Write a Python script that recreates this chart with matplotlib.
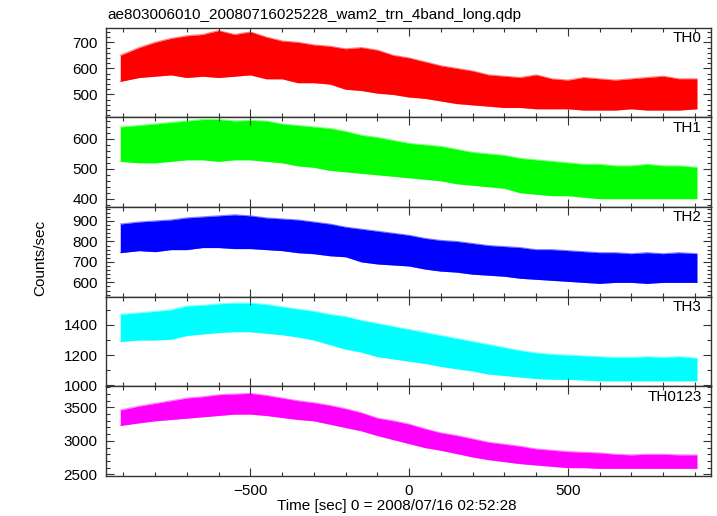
import numpy as np
import matplotlib
matplotlib.use("Agg")
import matplotlib.pyplot as plt
from matplotlib.ticker import MultipleLocator

plt.rcParams['font.family'] = ['Liberation Sans', 'DejaVu Sans']

time_s = [-910, -850, -800, -750, -700, -650, -600, -550, -500, -450, -400,
          -350, -300, -250, -200, -150, -100, -50, 0, 50, 100, 150, 200,
          250, 300, 350, 400, 450, 500, 550, 600, 650, 700, 750, 800, 850, 907]

th0_hi = [650, 680, 700, 715, 725, 730, 745, 730, 740, 720, 705, 700, 690, 685,
          675, 680, 670, 650, 640, 625, 610, 600, 590, 575, 570, 565, 575, 560,
          555, 565, 560, 555, 560, 565, 570, 560, 560]
th0_lo = [550, 565, 570, 575, 565, 570, 565, 570, 575, 560, 560, 545, 545, 540,
          520, 515, 505, 500, 490, 485, 475, 465, 460, 455, 450, 450, 445, 445,
          445, 440, 440, 440, 445, 440, 440, 440, 445]

th1_hi = [640, 645, 650, 655, 660, 665, 665, 660, 662, 660, 650, 645, 640, 635,
          625, 612, 605, 595, 585, 580, 575, 565, 555, 550, 545, 535, 530, 525,
          520, 515, 515, 510, 510, 515, 510, 510, 505]
th1_lo = [525, 520, 520, 525, 530, 530, 525, 530, 530, 525, 520, 510, 505, 495,
          490, 485, 480, 475, 470, 465, 460, 450, 445, 440, 435, 420, 415, 410,
          410, 405, 400, 400, 400, 400, 400, 400, 400]

th2_hi = [885, 895, 900, 905, 915, 920, 925, 930, 925, 915, 910, 905, 895, 885,
          870, 860, 850, 840, 830, 815, 805, 800, 790, 780, 775, 770, 760, 760,
          755, 750, 745, 745, 740, 745, 740, 745, 740]
th2_lo = [745, 755, 750, 760, 760, 770, 770, 765, 765, 760, 755, 745, 740, 730,
          725, 700, 690, 685, 680, 665, 655, 650, 640, 635, 630, 620, 615, 610,
          605, 600, 595, 600, 600, 595, 600, 600, 600]

th3_hi = [1470, 1480, 1490, 1500, 1525, 1530, 1540, 1545, 1545, 1535, 1520, 1505,
          1490, 1470, 1455, 1430, 1410, 1390, 1370, 1350, 1330, 1310, 1290, 1270,
          1250, 1230, 1215, 1205, 1200, 1195, 1190, 1185, 1185, 1190, 1185, 1190, 1180]
th3_lo = [1290, 1300, 1300, 1305, 1330, 1340, 1350, 1355, 1355, 1345, 1335, 1320,
          1300, 1270, 1240, 1220, 1190, 1175, 1160, 1145, 1125, 1110, 1095, 1075,
          1065, 1055, 1045, 1040, 1040, 1035, 1030, 1030, 1030, 1030, 1030, 1030, 1030]

th0123_hi = [3460, 3520, 3560, 3600, 3640, 3660, 3690, 3700, 3710, 3680, 3640, 3600,
             3570, 3530, 3480, 3420, 3340, 3300, 3250, 3180, 3120, 3080, 3030, 2980,
             2950, 2920, 2880, 2860, 2840, 2830, 2820, 2800, 2790, 2800, 2800, 2790, 2790]
th0123_lo = [3230, 3270, 3300, 3320, 3340, 3360, 3380, 3400, 3400, 3380, 3350, 3320,
             3300, 3250, 3200, 3150, 3080, 3020, 2960, 2900, 2860, 2810, 2760, 2720,
             2690, 2660, 2640, 2620, 2600, 2600, 2590, 2590, 2590, 2590, 2590, 2590, 2590]

band_names = ["TH0", "TH1", "TH2", "TH3", "TH0123"]
band_hi = [th0_hi, th1_hi, th2_hi, th3_hi, th0123_hi]
band_lo = [th0_lo, th1_lo, th2_lo, th3_lo, th0123_lo]
band_colors = ["#ff0000", "#00ff00", "#0000ff", "#00ffff", "#ff00ff"]
y_limits = [(412, 756), (372, 672), (530, 968), (993, 1587), (2475, 3815)]
y_major = [100, 100, 100, 200, 500]
y_minor = [20, 20, 20, 100, 100]

fig = plt.figure(figsize=(7.17, 5.16), dpi=100)
gs = fig.add_gridspec(5, 1, left=0.1478, right=0.9916, top=0.9463, bottom=0.0775, hspace=0)

t = np.array(time_s)
for i, name in enumerate(band_names):
    ax = fig.add_subplot(gs[i])
    ax.fill_between(t, band_lo[i], band_hi[i], color=band_colors[i], lw=0)
    ax.plot(t, band_hi[i], color=band_colors[i], lw=0.8, alpha=0.5)
    ax.plot(t, band_lo[i], color=band_colors[i], lw=0.8, alpha=0.5)
    ax.set_xlim(-955, 951)
    ax.set_ylim(*y_limits[i])
    ax.xaxis.set_major_locator(MultipleLocator(500))
    ax.xaxis.set_minor_locator(MultipleLocator(100))
    ax.yaxis.set_major_locator(MultipleLocator(y_major[i]))
    ax.yaxis.set_minor_locator(MultipleLocator(y_minor[i]))
    ax.tick_params(which='both', direction='in', top=True, right=True,
                   labelsize=11, color='#333333', width=0.8)
    ax.tick_params(which='major', length=6, pad=6)
    ax.tick_params(which='minor', length=3)
    for sp in ax.spines.values():
        sp.set_linewidth(1.0)
        sp.set_color('#333333')
    if i < len(band_names) - 1:
        ax.tick_params(labelbottom=False)
    ax.text(0.985, 0.885, name, transform=ax.transAxes, ha='right', va='center', fontsize=11)

fig.text(107 / 717, 1 - 15 / 516, "ae803006010_20080716025228_wam2_trn_4band_long.qdp",
         ha='left', va='center', fontsize=11)
fig.text(40 / 717, 1 - 258 / 516, "Counts/sec", rotation=90, ha='center', va='center', fontsize=11)
fig.text(397 / 717, 1 - 506 / 516, "Time [sec] 0 = 2008/07/16 02:52:28",
         ha='center', va='center', fontsize=11)

fig.savefig("out.png", dpi=100)
